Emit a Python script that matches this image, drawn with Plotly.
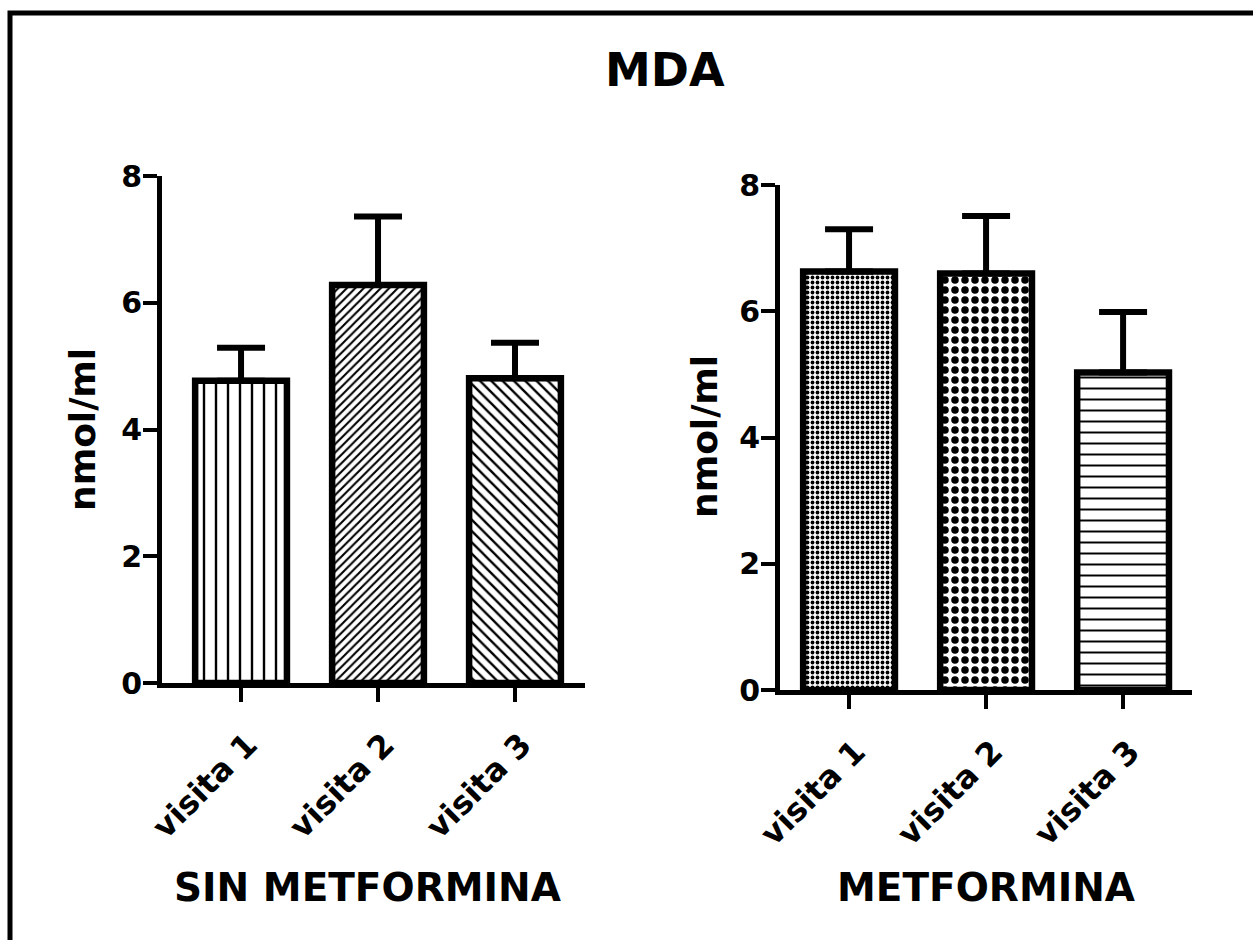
import plotly.graph_objects as go

# ---------------- data ----------------
categories = ["visita 1", "visita 2", "visita 3"]
sin_metformina_mean = [4.77, 6.28, 4.81]
sin_metformina_sem = [0.52, 1.08, 0.56]
metformina_mean = [6.63, 6.60, 5.03]
metformina_sem = [0.67, 0.91, 0.96]
y_ticks = [0, 2, 4, 6, 8]
title_text = "MDA"
y_title = "nmol/ml"
x_title_left = "SIN METFORMINA"
x_title_right = "METFORMINA"

# ---------------- styling helpers ----------------
W, H = 1253, 940
FONT = "DejaVu Sans"


def px(x):
    return x / W


def py(y):
    return 1 - y / H


def bold(size):
    return dict(family=FONT, size=size, color="black", weight=700)


fig = go.Figure()

fig.add_trace(go.Bar(
    x=categories, y=sin_metformina_mean, xaxis="x", yaxis="y",
    width=0.67,
    marker=dict(
        color="white",
        line=dict(color="black", width=6.5),
        pattern=dict(shape=["|", "/", "\\"], size=[12, 6, 8],
                     solidity=[0.2, 0.35, 0.3], fgcolor="black",
                     bgcolor="white", fillmode="overlay", fgopacity=1),
    ),
    error_y=dict(type="data", array=sin_metformina_sem, arrayminus=[0, 0, 0],
                 symmetric=False, color="black", thickness=6, width=24),
    showlegend=False, hoverinfo="skip",
))

fig.add_trace(go.Bar(
    x=categories, y=metformina_mean, xaxis="x2", yaxis="y2",
    width=0.67,
    marker=dict(
        color="white",
        line=dict(color="black", width=6.5),
        pattern=dict(shape=[".", ".", "-"], size=[5, 10, 11],
                     solidity=[0.45, 0.45, 0.18], fgcolor="black",
                     bgcolor="white", fillmode="overlay", fgopacity=1),
    ),
    error_y=dict(type="data", array=metformina_sem, arrayminus=[0, 0, 0],
                 symmetric=False, color="black", thickness=6, width=24),
    showlegend=False, hoverinfo="skip",
))

xaxis_common = dict(
    showline=True, linewidth=5, linecolor="black", showgrid=False,
    zeroline=False, ticks="outside", ticklen=14, tickwidth=4,
    tickcolor="black", tickangle=-45, tickfont=bold(32), mirror=False,
    automargin=False, ticklabelstandoff=11, ticklabelshift=7,
)
yaxis_common = dict(
    showline=True, linewidth=5, linecolor="black", showgrid=False,
    zeroline=False, ticks="outside", ticklen=14, tickwidth=4,
    tickcolor="black", tickfont=bold(30), range=[0, 8],
    tickmode="array", tickvals=y_ticks, ticktext=[str(v) for v in y_ticks],
    automargin=False, ticklabelstandoff=-5,
)

fig.update_layout(
    template="none",
    width=W, height=H, autosize=False,
    margin=dict(l=0, r=0, t=0, b=0, pad=0, autoexpand=False),
    paper_bgcolor="white", plot_bgcolor="white",
    showlegend=False,
    xaxis=dict(domain=[px(162), px(585)], range=[-0.577, 2.511],
               anchor="y", **xaxis_common),
    yaxis=dict(domain=[py(683), py(176)], anchor="x", **yaxis_common),
    xaxis2=dict(domain=[px(780), px(1192)], range=[-0.504, 2.503],
                anchor="y2", **xaxis_common),
    yaxis2=dict(domain=[py(690), py(185)], anchor="x2", **yaxis_common),
)

annotations = [
    dict(text=title_text, x=px(665), y=py(70), font=bold(46)),
    dict(text=x_title_left, x=px(367), y=py(887), font=bold(39)),
    dict(text=x_title_right, x=px(986), y=py(887), font=bold(39)),
    dict(text=y_title, x=px(83), y=py(430), font=bold(36), textangle=-90),
    dict(text=y_title, x=px(705), y=py(437), font=bold(36), textangle=-90),
]
for a in annotations:
    a.update(xref="paper", yref="paper", showarrow=False,
             xanchor="center", yanchor="middle")
fig.update_layout(annotations=annotations)

fig.add_shape(type="rect", xref="paper", yref="paper",
              x0=px(10), y0=py(13), x1=1.05, y1=-0.05,
              line=dict(color="black", width=5), fillcolor="rgba(0,0,0,0)")

fig.write_html("out.html")
